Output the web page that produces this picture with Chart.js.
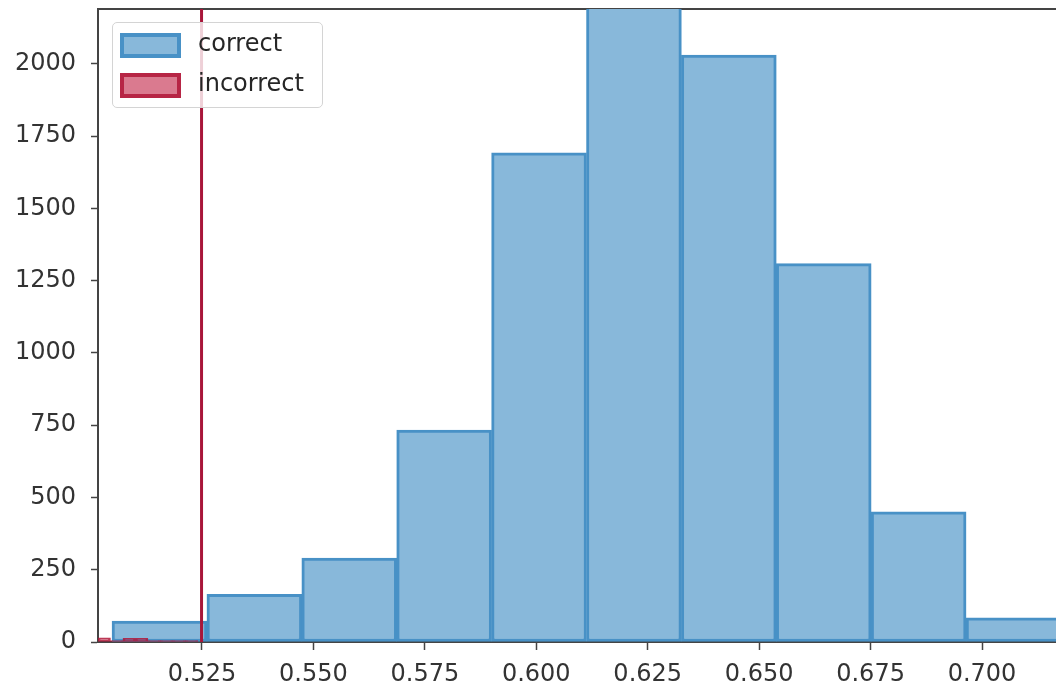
<!DOCTYPE html>
<html>
<head>
<meta charset="utf-8">
<script src="https://cdn.jsdelivr.net/npm/chart.js@4"></script>
<style>
  html, body { margin: 0; padding: 0; background: #fff; }
  #wrap { position: relative; width: 1056px; height: 687px; }
  #legend {
    position: absolute; left: 112px; top: 22px; width: 209px; height: 84px;
    border: 1px solid #d4d4d4; border-radius: 5px; background: rgba(255,255,255,0.8);
    font-family: "DejaVu Sans"; font-size: 24px; color: #262626;
  }
  .item { position: absolute; left: 7px; height: 25px; line-height: 25px; }
  .patch { position: absolute; left: 0; top: 0; box-sizing: border-box; width: 61px; height: 25px; }
  .lbl { position: absolute; left: 78px; top: -2px; white-space: nowrap; }
</style>
</head>
<body>
<div id="wrap">
  <canvas id="myChart"></canvas>
  <div id="legend"></div>
</div>
<script>
// histogram bins (centers) and counts
const correctCenters = [0.51546, 0.53675, 0.55804, 0.57933, 0.60062, 0.62191, 0.64320, 0.66449, 0.68578, 0.70707];
const correctCounts = [72, 165, 290, 733, 1692, 2210, 2031, 1309, 450, 84];

const incorrectCenters = [0.50307, 0.50587, 0.50867, 0.51147, 0.51427, 0.51707, 0.51987, 0.52267];
const incorrectCounts = [14, 5, 13, 13, 5, 5, 5, 5];

const threshold = 0.5249;

const xTicks = [0.525, 0.550, 0.575, 0.600, 0.625, 0.650, 0.675, 0.700];
const yTicks = [0, 250, 500, 750, 1000, 1250, 1500, 1750, 2000];

const xMin = 0.50167;
const xMax = 0.7166;
const yMax = 2190;

const blueFill = "rgb(136,184,218)";
const blueEdge = "rgb(72,145,198)";
const redFill = "rgba(196,40,75,0.62)";
const redEdge = "rgba(176,22,56,0.85)";
const axisColor = "#444";
const tickFont = { family: "DejaVu Sans", size: 24, lineHeight: 1.1 };

var datasets = [
  {
    type: "line",
    label: "_threshold",
    data: [{ x: threshold, y: 0 }, { x: threshold, y: yMax }],
    borderColor: "#a8163a",
    borderWidth: 3,
    pointRadius: 0,
    xAxisID: "x",
    order: 0
  },
  {
    type: "bar",
    label: "incorrect",
    data: incorrectCenters.map((x, i) => ({ x: x, y: incorrectCounts[i] })),
    backgroundColor: redFill,
    borderColor: redEdge,
    borderWidth: 2,
    borderSkipped: false,
    grouped: false,
    barPercentage: 1.0,
    categoryPercentage: 1.0,
    xAxisID: "x2",
    order: 1
  },
  {
    type: "bar",
    label: "correct",
    data: correctCenters.map((x, i) => ({ x: x, y: correctCounts[i] })),
    backgroundColor: blueFill,
    borderColor: blueEdge,
    borderWidth: 3,
    borderSkipped: false,
    grouped: false,
    barPercentage: 1.0,
    categoryPercentage: 1.0,
    xAxisID: "x",
    order: 2
  }
];

var ctx = document.getElementById("myChart").getContext("2d");
var histChart = new Chart(ctx, {
  type: "bar",
  data: { datasets: datasets },
  options: {
    responsive: true,
    maintainAspectRatio: false,
    animation: false,
    layout: { padding: { left: 0, top: 9, right: 0, bottom: 0 } },
    plugins: {
      legend: { display: false },
      tooltip: { enabled: false }
    },
    scales: {
      x: {
        type: "linear",
        min: xMin,
        max: xMax,
        offset: false,
        afterBuildTicks: s => { s.ticks = xTicks.map(v => ({ value: v })); },
        afterFit: s => { s.height = 45; },
        ticks: {
          callback: v => v.toFixed(3),
          font: tickFont,
          color: "#333",
          padding: 12,
          maxRotation: 0,
          autoSkip: false
        },
        grid: { offset: false, drawOnChartArea: false, drawTicks: true, tickLength: 8, tickColor: axisColor, tickWidth: 1.5 },
        border: { display: true, color: axisColor, width: 2 }
      },
      x2: {
        type: "linear",
        position: "top",
        min: xMin,
        max: xMax,
        offset: false,
        ticks: { display: false },
        grid: { offset: false, display: true, drawOnChartArea: false, drawTicks: false },
        border: { display: true, color: axisColor, width: 2 }
      },
      y: {
        min: 0,
        max: yMax,
        afterBuildTicks: s => { s.ticks = yTicks.map(v => ({ value: v })); },
        afterFit: s => { s.paddingTop = 0; s.width = 98; },
        ticks: { callback: v => String(v), font: tickFont, color: "#333", padding: 15 },
        grid: { drawOnChartArea: false, drawTicks: true, tickLength: 7, tickColor: axisColor, tickWidth: 1.5 },
        border: { display: true, color: axisColor, width: 2 }
      }
    }
  }
});

// legend like matplotlib's, upper left inside the axes
function renderLegend() {
  var legend = document.getElementById("legend");
  var shown = datasets.filter(d => d.label.charAt(0) !== "_")
    .sort((a, b) => b.order - a.order);
  for (var i = 0; i < shown.length; i++) {
    var d = shown[i];
    legend.insertAdjacentHTML("beforeend",
      `<div class="item" style="top:${10 + i * 40}px">
        <div class="patch" style="background:${d.backgroundColor};border:4px solid ${d.borderColor}"></div>
        <span class="lbl">${d.label}</span>
      </div>`);
  }
}
renderLegend();
</script>
</body>
</html>
